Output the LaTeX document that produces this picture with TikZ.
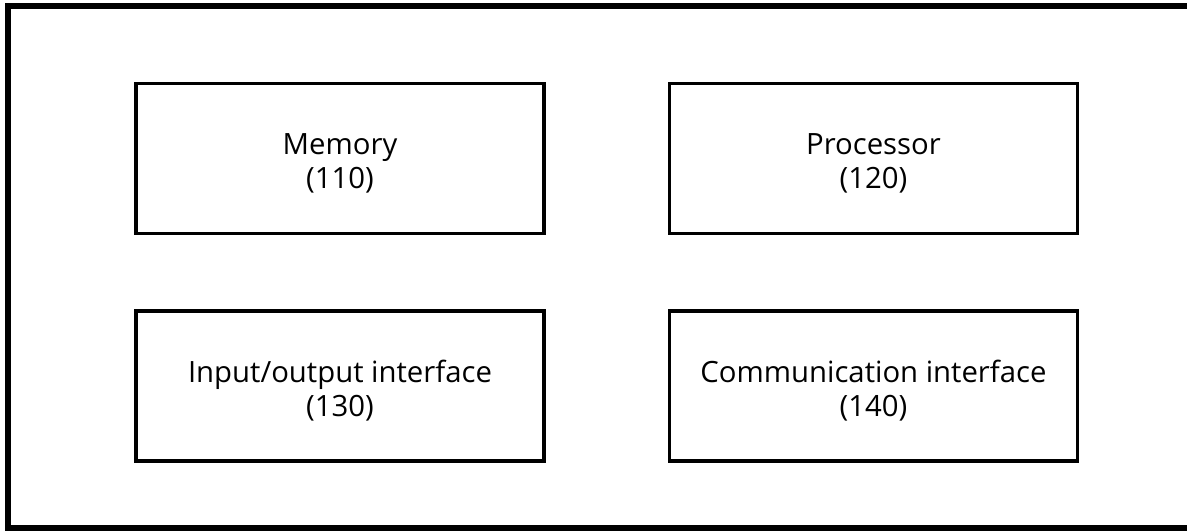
\documentclass[tikz,border=0pt]{standalone}
\usepackage{fontspec}
\setmainfont{Open Sans}
\begin{document}
\begin{tikzpicture}[x=1pt,y=-1pt,
  unit/.style={draw=black,line width=3.5pt,rectangle,minimum width=408pt,minimum height=150pt,inner sep=0pt},
  unittext/.style={align=center,inner sep=0pt,font=\fontsize{29.3}{34}\selectfont},
  frame/.style={draw=black,line width=6pt}]
\useasboundingbox (0,0) rectangle (1187,531);
\begin{scope}
\clip (0,0) rectangle (1187,531);
\draw[frame] (1200,6) -- (8,6) -- (8,528) -- (1200,528);
\end{scope}
\node[unit] (memb) at (340,158.5) {};
\node[unit] (procb) at (873.5,158.5) {};
\node[unit] (iob) at (340,386) {};
\node[unit] (commb) at (873.5,386) {};
\node[unittext,yshift=-5pt] (mem) at (memb.center) {Memory\\(110)};
\node[unittext,yshift=-5pt] (proc) at (procb.center) {Processor\\(120)};
\node[unittext,yshift=-5pt] (io) at (iob.center) {Input/output interface\\(130)};
\node[unittext,yshift=-5pt] (comm) at (commb.center) {Communication interface\\(140)};
\end{tikzpicture}
\end{document}
